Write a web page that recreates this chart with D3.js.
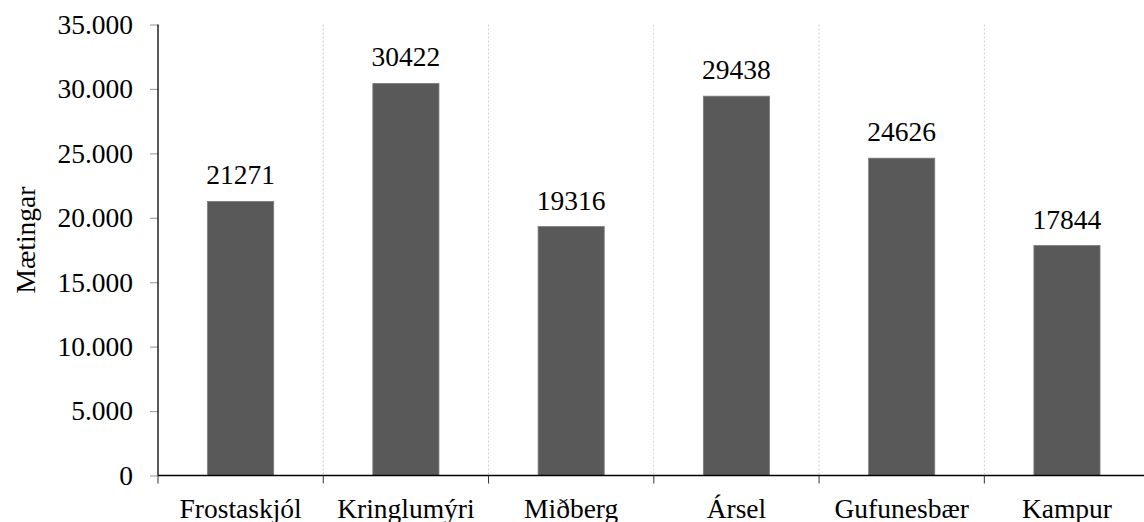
<!DOCTYPE html>
<html>
<head>
<meta charset="utf-8">
<script src="https://cdn.jsdelivr.net/npm/d3@7"></script>
<style>
  html, body { margin: 0; padding: 0; background: #fff; }
  svg { display: block; }
  text { font-family: "Liberation Serif", serif; fill: #000; }
</style>
</head>
<body>
<svg id="chart" width="1144" height="522"></svg>
<script>
const categories = ["Frostaskjól", "Kringlumýri", "Miðberg", "Ársel", "Gufunesbær", "Kampur"];
const values = [21271, 30422, 19316, 29438, 24626, 17844];
const yTicks = [0, 5000, 10000, 15000, 20000, 25000, 30000, 35000];
const yTitle = "Mætingar";

(function () {
const svg = d3.select("#chart");
const mLeft = 158, mRight = 1149.6, mTop = 24.5, mBottom = 475.5;
const fs = 27.5;

const locale = d3.formatLocale({ decimal: ",", thousands: ".", grouping: [3], currency: ["", " kr"] });
const fmt = locale.format(",d");

const x = d3.scaleBand().domain(categories).range([mLeft, mRight]).paddingInner(0).paddingOuter(0);
const y = d3.scaleLinear().domain([0, 35000]).range([mBottom, mTop]);

// vertical dividers
const bounds = categories.slice(1).map(c => x(c));
svg.append("g").selectAll("line").data(bounds).join("line")
  .attr("x1", d => d).attr("x2", d => d)
  .attr("y1", mTop).attr("y2", mBottom)
  .attr("stroke", "#d0d0d0").attr("stroke-width", 1)
  .attr("stroke-dasharray", "2,2");

// bars
const bw = x.bandwidth() * 0.4;
svg.append("g").selectAll("rect").data(categories).join("rect")
  .attr("x", (d) => x(d) + (x.bandwidth() - bw) / 2)
  .attr("y", (d, i) => y(values[i]))
  .attr("width", bw)
  .attr("height", (d, i) => mBottom - y(values[i]))
  .attr("fill", "#595959")
  .attr("stroke", "#7a7a7a").attr("stroke-width", 0.8);

// value labels
svg.append("g").selectAll("text").data(categories).join("text")
  .attr("x", d => x(d) + x.bandwidth() / 2)
  .attr("y", (d, i) => y(values[i]) - 17)
  .attr("text-anchor", "middle")
  .attr("font-size", fs)
  .text((d, i) => values[i]);

// y axis
const yAxis = d3.axisLeft(y).tickValues(yTicks).tickFormat(fmt).tickSize(8).tickPadding(17);
const gy = svg.append("g").attr("transform", `translate(${mLeft},0)`).call(yAxis);
gy.select(".domain").remove();
gy.selectAll(".tick line").attr("stroke", "#a6a6a6").attr("stroke-width", 1.2);
gy.selectAll(".tick text").attr("font-size", fs).attr("font-family", "Liberation Serif, serif").attr("fill", "#000");
svg.append("line").attr("x1", mLeft).attr("x2", mLeft).attr("y1", mTop).attr("y2", mBottom)
  .attr("stroke", "#000").attr("stroke-width", 1.3);

// x axis
svg.append("line").attr("x1", mLeft).attr("x2", mRight).attr("y1", mBottom).attr("y2", mBottom)
  .attr("stroke", "#000").attr("stroke-width", 1.3);
const xb = [mLeft].concat(bounds);
svg.append("g").selectAll("line").data(xb).join("line")
  .attr("x1", d => d).attr("x2", d => d)
  .attr("y1", mBottom).attr("y2", mBottom + 8)
  .attr("stroke", "#333").attr("stroke-width", 1);
svg.append("g").selectAll("text").data(categories).join("text")
  .attr("x", d => x(d) + x.bandwidth() / 2)
  .attr("y", 518)
  .attr("text-anchor", "middle")
  .attr("font-size", fs)
  .text(d => d);

// y title
svg.append("text")
  .attr("transform", `translate(35,240) rotate(-90)`)
  .attr("text-anchor", "middle")
  .attr("font-size", fs)
  .text(yTitle);
})();
</script>
</body>
</html>
